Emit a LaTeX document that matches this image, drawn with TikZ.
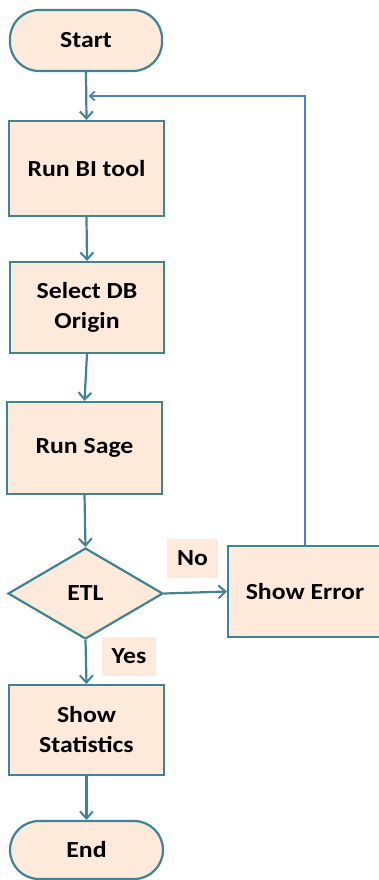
\documentclass[tikz,border=0pt]{standalone}
\usepackage{fontspec}
\setmainfont{Carlito}[FakeStretch=1.12]
\usetikzlibrary{shapes.geometric,arrows.meta}
\definecolor{teal1}{RGB}{64,131,148}
\definecolor{peach}{RGB}{253,234,218}
\definecolor{loopblue}{RGB}{79,129,189}
\tikzset{
  box/.style={draw=teal1, fill=peach, line width=2.2pt, inner sep=0pt, align=center,
    font=\fontsize{23}{30}\selectfont\bfseries},
  term/.style={box, rounded corners=29pt},
  lbl/.style={fill=peach, inner sep=0pt, font=\fontsize{23}{30}\selectfont\bfseries},
  conn/.style={draw=teal1, line width=2.2pt, -{Straight Barb[length=7pt,width=13pt,line width=2pt]}},
  loopconn/.style={draw=loopblue, line width=2pt, -{Straight Barb[length=5pt,width=9pt,line width=1.8pt]}}
}
\begin{document}
\begin{tikzpicture}[x=1pt,y=-1pt]
\useasboundingbox (0,0) rectangle (379,880);
\node[term, minimum width=152pt, minimum height=61pt] (start) at (86,40.5) {Start};
\node[box, minimum width=155pt, minimum height=95pt] (runbi) at (86.5,168.5) {Run BI tool};
\node[box, minimum width=154pt, minimum height=91pt] (sel) at (87,307.5) {Select DB\\Origin};
\node[box, minimum width=155pt, minimum height=92pt] (sage) at (84.5,448) {Run Sage};
\node[box, shape=diamond, aspect=1.7, minimum width=155pt, minimum height=91pt] (etl) at (85.5,593.5) {ETL};
\node[box, minimum width=154pt, minimum height=91pt] (err) at (305,591.5) {Show Error};
\node[box, minimum width=155pt, minimum height=90pt] (stats) at (86.5,730) {Show\\Statistics};
\node[term, minimum width=153pt, minimum height=58pt] (end) at (86.5,850) {End};
\node[lbl, minimum width=51pt, minimum height=39pt] (no) at (192.5,558.5) {No};
\node[lbl, minimum width=54pt, minimum height=39pt] (yes) at (129,656.5) {Yes};
\coordinate (loopend) at (88.5,96);
\draw[conn] (start.south) -- (runbi.north);
\draw[conn] (runbi.south) -- (sel.north);
\draw[conn] (sel.south) -- (sage.north);
\draw[conn] (sage.south) -- (etl.north);
\draw[conn] (etl.east) -- (err.west);
\draw[conn] (etl.south) -- (stats.north);
\draw[conn] (stats.south) -- (end.north);
\draw[loopconn] (err.north) |- (loopend);
\end{tikzpicture}
\end{document}
